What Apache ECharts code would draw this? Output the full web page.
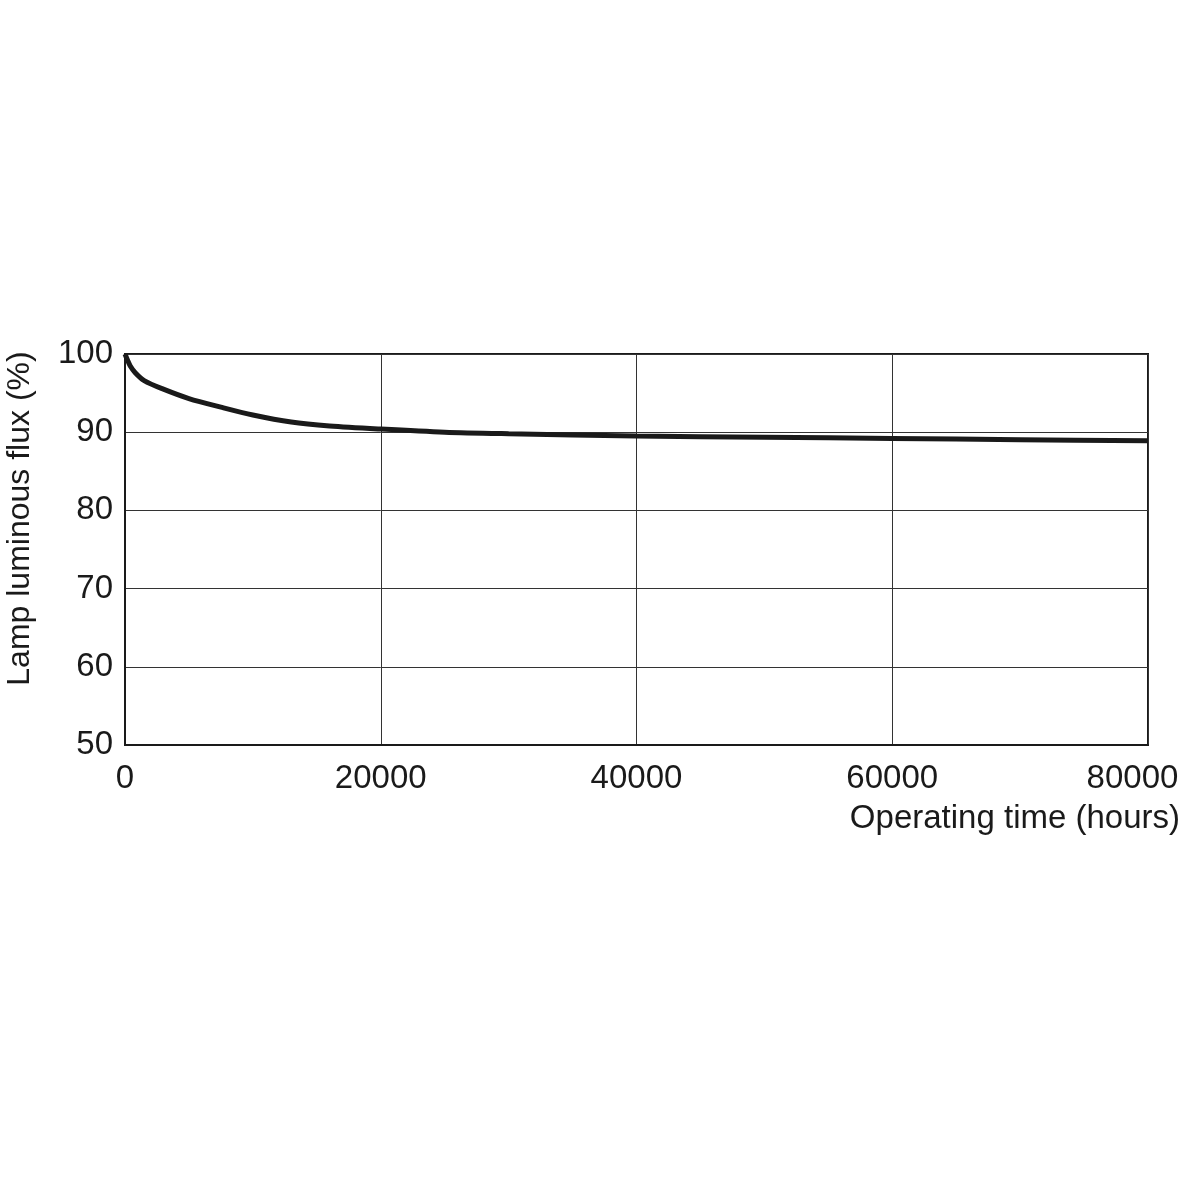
<!DOCTYPE html>
<html>
<head>
<meta charset="utf-8">
<script src="https://cdn.jsdelivr.net/npm/echarts@6/dist/echarts.min.js"></script>
<style>
html,body{margin:0;padding:0;background:#fff;}
#chart{width:1183px;height:1183px;}
</style>
</head>
<body>
<div id="chart"></div>
<script>
const hours = [0, 200, 400, 800, 1500, 3000, 5000, 7500, 10000, 13000, 16000, 20000, 25000, 30000, 40000, 50000, 60000, 70000, 80000];
const flux = [100, 99.2, 98.5, 97.6, 96.6, 95.5, 94.3, 93.2, 92.2, 91.3, 90.8, 90.4, 90.0, 89.8, 89.5, 89.35, 89.2, 89.05, 88.9];
const xName = 'Operating time (hours)';
const yName = 'Lamp luminous flux (%)';

const chart = echarts.init(document.getElementById('chart'));
const font = 'Liberation Sans, Arial, sans-serif';
chart.setOption({
  animation: false,
  grid: {left: 125, right: 35, top: 354, bottom: 438, show: true, borderColor: '#1a1a1a', borderWidth: 2, backgroundColor: 'transparent', containLabel: false, outerBoundsMode: 'none'},
  xAxis: {
    type: 'value', min: 0, max: 80000, interval: 20000,
    axisLine: {show: true, lineStyle: {color: '#1a1a1a', width: 2}},
    axisTick: {show: false},
    splitLine: {show: true, lineStyle: {color: '#333', width: 1}},
    axisLabel: {
      color: '#1a1a1a', fontSize: 33, fontFamily: font, margin: 17, hideOverlap: false,
      formatter: v => v === 80000 ? '{last|' + v + '}' : String(v),
      rich: {last: {color: '#1a1a1a', fontSize: 33, fontFamily: font, padding: [0, 31, 0, 0]}}
    },
    name: xName, nameLocation: 'end', nameGap: 32,
    nameTextStyle: {color: '#1a1a1a', fontSize: 33, fontFamily: font, align: 'right', verticalAlign: 'top', padding: [57, 0, 0, 0]}
  },
  yAxis: {
    type: 'value', min: 50, max: 100, interval: 10,
    axisLine: {show: true, lineStyle: {color: '#1a1a1a', width: 2}},
    axisTick: {show: false},
    splitLine: {show: true, lineStyle: {color: '#333', width: 1}},
    axisLabel: {color: '#1a1a1a', fontSize: 33, fontFamily: font, margin: 12},
    name: yName, nameLocation: 'middle', nameGap: 105,
    nameTextStyle: {color: '#1a1a1a', fontSize: 32, fontFamily: font, verticalAlign: 'middle', padding: [0, 0, 0, 62]}
  },
  series: [{
    type: 'line', data: hours.map((h, i) => [h, flux[i]]),
    smooth: 0.3, showSymbol: false,
    lineStyle: {color: '#1a1a1a', width: 5}
  }]
});
</script>
</body>
</html>
